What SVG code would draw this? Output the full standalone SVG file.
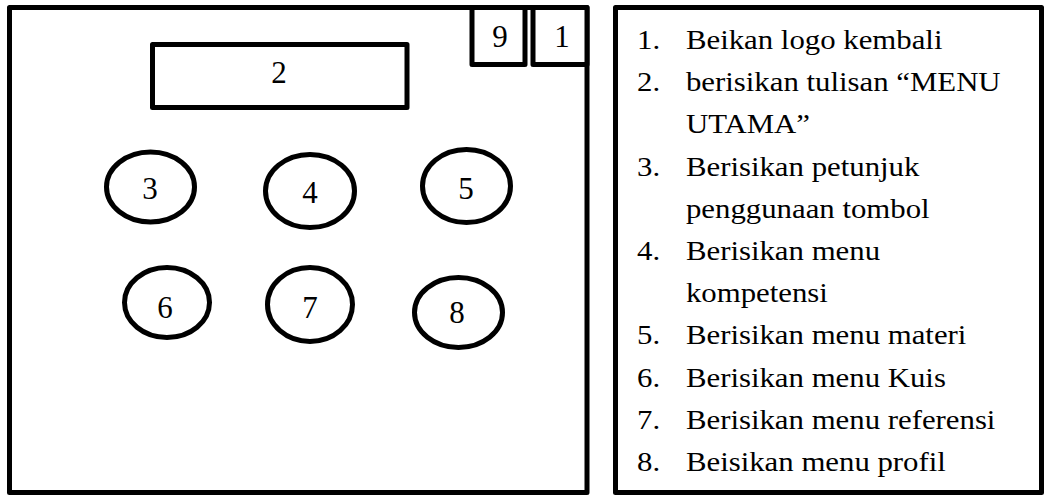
<svg xmlns="http://www.w3.org/2000/svg" width="1044" height="495" viewBox="0 0 1044 495">
<style>
.box{fill:#fff;stroke:#000;stroke-width:5;stroke-linejoin:round}
.ov{fill:#fff;stroke:#000;stroke-width:5}
.num{font-family:"Liberation Serif","Times New Roman",serif;font-size:31px;fill:#000;text-anchor:middle}
.lst{font-family:"Liberation Serif","Times New Roman",serif;font-size:28px;fill:#000}
</style>
<rect width="1044" height="495" fill="#fff"/>
<g id="screen"><rect class="box" x="9.5" y="7.5" width="577.5" height="485"/></g>
<g id="node9"><rect class="box" x="472" y="7.5" width="53" height="57"/><text class="num" x="500" y="47">9</text></g>
<g id="node1"><rect class="box" x="533" y="7.5" width="54" height="57"/><text class="num" x="562" y="47">1</text></g>
<g id="node2"><rect class="box" x="152.5" y="44.5" width="254.5" height="63"/><text class="num" x="279" y="83">2</text></g>
<g id="node3"><ellipse class="ov" cx="150.5" cy="187" rx="44" ry="35"/><text class="num" x="150" y="199">3</text></g>
<g id="node4"><ellipse class="ov" cx="310" cy="191" rx="44.5" ry="36.5"/><text class="num" x="310" y="203">4</text></g>
<g id="node5"><ellipse class="ov" cx="466.5" cy="186" rx="44" ry="36.5"/><text class="num" x="466" y="199">5</text></g>
<g id="node6"><ellipse class="ov" cx="167" cy="302.5" rx="42.5" ry="35"/><text class="num" x="165" y="318">6</text></g>
<g id="node7"><ellipse class="ov" cx="310" cy="304.5" rx="42.5" ry="37"/><text class="num" x="310" y="318">7</text></g>
<g id="node8"><ellipse class="ov" cx="458.5" cy="312.5" rx="44" ry="35"/><text class="num" x="457" y="323">8</text></g>
<g id="connectors"></g>
<g id="legend">
<rect class="box" x="615.5" y="7.5" width="426" height="485"/>
<g transform="translate(637 0) scale(1.1 1)">
<text class="lst" x="0" y="49">1.</text><text class="lst" x="44.5" y="49">Beikan logo kembali</text>
<text class="lst" x="0" y="91.2">2.</text><text class="lst" x="44.5" y="91.2">berisikan tulisan “MENU</text>
<text class="lst" x="44.5" y="133.4">UTAMA”</text>
<text class="lst" x="0" y="175.6">3.</text><text class="lst" x="44.5" y="175.6">Berisikan petunjuk</text>
<text class="lst" x="44.5" y="217.8">penggunaan tombol</text>
<text class="lst" x="0" y="260">4.</text><text class="lst" x="44.5" y="260">Berisikan menu</text>
<text class="lst" x="44.5" y="302.2">kompetensi</text>
<text class="lst" x="0" y="344.4">5.</text><text class="lst" x="44.5" y="344.4">Berisikan menu materi</text>
<text class="lst" x="0" y="386.6">6.</text><text class="lst" x="44.5" y="386.6">Berisikan menu Kuis</text>
<text class="lst" x="0" y="428.8">7.</text><text class="lst" x="44.5" y="428.8">Berisikan menu referensi</text>
<text class="lst" x="0" y="471">8.</text><text class="lst" x="44.5" y="471">Beisikan menu profil</text>
</g>
</g>
</svg>
